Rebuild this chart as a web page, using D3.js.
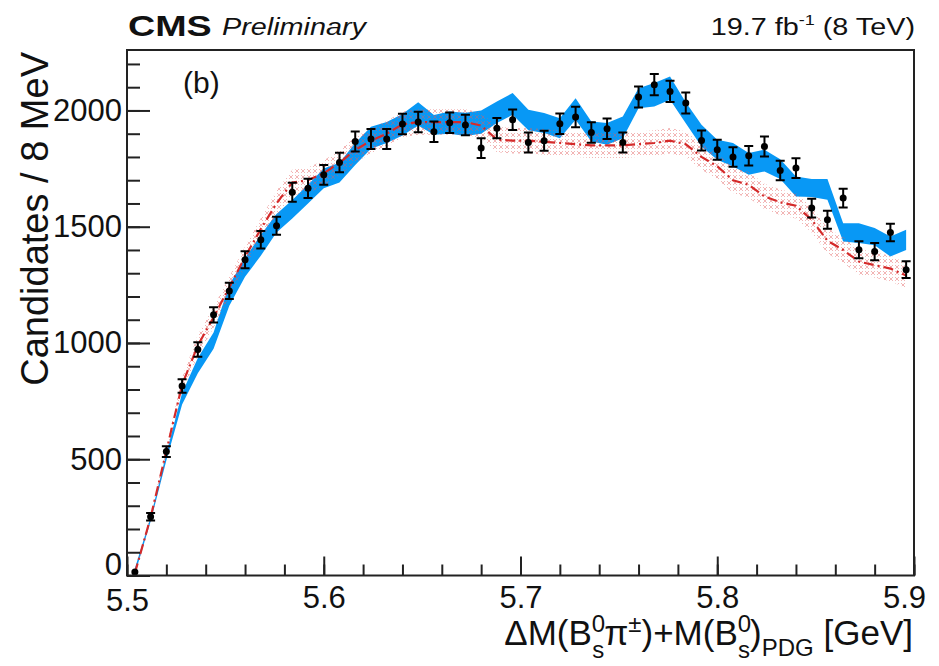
<!DOCTYPE html>
<html>
<head>
<meta charset="utf-8">
<script src="https://cdn.jsdelivr.net/npm/d3@7"></script>
<style>
  body { margin: 0; background: #fff; }
  svg text { font-family: "Liberation Sans", Arial, Helvetica, sans-serif; fill: #111; }
</style>
</head>
<body>
<div id="chart"></div>
<script>
const width = 939
const height = 666

// bin centres [GeV], 8 MeV bins
const massBins = [5.504,5.512,5.520,5.528,5.536,5.544,5.552,5.560,5.568,5.576,
                  5.584,5.592,5.600,5.608,5.616,5.624,5.632,5.640,5.648,5.656,
                  5.664,5.672,5.680,5.688,5.696,5.704,5.712,5.720,5.728,5.736,
                  5.744,5.752,5.760,5.768,5.776,5.784,5.792,5.800,5.808,5.816,
                  5.824,5.832,5.840,5.848,5.856,5.864,5.872,5.880,5.888,5.896]

// data points
const counts = [15,253,533,815,972,1121,1224,1358,1444,1504,
                1648,1665,1723,1776,1867,1877,1877,1942,1950,1908,
                1947,1937,1838,1924,1960,1862,1870,1943,1972,1905,
                1921,1862,2058,2111,2082,2032,1871,1831,1800,1805,
                1845,1742,1752,1580,1530,1623,1401,1393,1475,1315]
const errors = [4,16,23,29,31,33,35,37,38,39,
                41,41,42,42,43,43,43,44,44,44,
                44,44,43,44,44,43,43,44,44,44,
                44,43,45,46,46,45,43,43,42,42,
                43,42,42,40,39,40,37,37,38,36]

// blue band (lower / upper)
const blueLow = [5,232,495,735,870,975,1160,1285,1375,1475,
                 1535,1600,1665,1690,1765,1835,1860,1892,1935,1895,
                 1900,1890,1900,1946,1981,1915,1903,1881,1960,1867,
                 1852,1881,2010,2017,2046,1945,1845,1788,1759,1723,
                 1738,1705,1630,1628,1616,1436,1430,1420,1372,1400]
const blueHigh = [30,252,525,785,935,1045,1250,1365,1465,1555,
                  1615,1680,1750,1775,1860,1930,1950,1985,2035,1980,
                  1995,1990,2000,2039,2075,2003,1989,1967,2053,1953,
                  1946,1974,2096,2118,2146,2035,1938,1874,1860,1817,
                  1831,1790,1716,1705,1705,1515,1515,1494,1458,1487]

// red band (central line, lower, upper)
const redMid = [10,250,535,820,990,1110,1240,1370,1490,1600,
                1690,1700,1730,1775,1830,1870,1900,1940,1950,1950,
                1950,1950,1935,1875,1870,1870,1865,1860,1855,1850,
                1850,1850,1855,1860,1870,1855,1800,1760,1700,1680,
                1630,1605,1590,1530,1440,1400,1350,1335,1320,1290]
const redLow = [2,235,515,790,945,1065,1195,1325,1445,1545,
                1635,1645,1675,1720,1775,1815,1845,1885,1895,1895,
                1895,1895,1880,1820,1815,1815,1810,1805,1800,1795,
                1795,1795,1800,1805,1815,1800,1745,1705,1645,1625,
                1575,1550,1535,1475,1385,1345,1295,1280,1265,1235]
const redHigh = [18,265,555,850,1035,1155,1285,1415,1535,1655,
                 1745,1755,1785,1830,1885,1925,1955,1995,2005,2005,
                 2005,2005,1990,1930,1925,1925,1920,1915,1910,1905,
                 1905,1905,1910,1915,1925,1910,1855,1815,1755,1735,
                 1685,1660,1645,1585,1495,1455,1405,1390,1375,1345]

const xMajor = [5.5, 5.6, 5.7, 5.8, 5.9]
const yMajor = [0, 500, 1000, 1500, 2000]

const svg = d3.select("div#chart").append("svg").attr("width", width).attr("height", height)

const x = d3.scaleLinear().domain([5.5, 5.9]).range([127, 914])
const y = d3.scaleLinear().domain([0, 2260]).range([575.5, 50])

const defs = svg.append("defs")
const pat = defs.append("pattern").attr("id", "redHatch")
    .attr("width", 6).attr("height", 6).attr("patternUnits", "userSpaceOnUse")
pat.append("path").attr("d", "M1,1 L5,5 M5,1 L1,5")
    .attr("stroke", "#e35a5a").attr("stroke-opacity", 0.45).attr("stroke-width", 1)

const bins = massBins.map((m, i) => ({
    m, n: counts[i], e: errors[i],
    bl: blueLow[i], bh: blueHigh[i],
    rm: redMid[i], rl: redLow[i], rh: redHigh[i]
}))

const elementGroup = svg.append("g").attr("class", "elementGroup")

// blue band
elementGroup.append("path").datum(bins)
    .attr("d", d3.area().x(d => x(d.m)).y0(d => y(d.bl)).y1(d => y(d.bh)))
    .attr("fill", "#0898f5")

// red band + dash-dot line
elementGroup.append("path").datum(bins)
    .attr("d", d3.area().x(d => x(d.m)).y0(d => y(d.rl)).y1(d => y(d.rh)))
    .attr("fill", "url(#redHatch)")
elementGroup.append("path").datum(bins)
    .attr("d", d3.line().x(d => x(d.m)).y(d => y(d.rm)))
    .attr("fill", "none").attr("stroke", "#d42a2a").attr("stroke-width", 2.2)
    .attr("stroke-dasharray", "10,4,2,4")

// data points with error bars
const pts = elementGroup.selectAll("g.pt").data(bins).enter().append("g").attr("class", "pt")
pts.append("line")
    .attr("x1", d => x(d.m)).attr("x2", d => x(d.m))
    .attr("y1", d => y(d.n - d.e)).attr("y2", d => y(d.n + d.e))
    .attr("stroke", "#000").attr("stroke-width", 2)
pts.filter(d => d.e > 10).append("path")
    .attr("d", d => `M${x(d.m) - 4.5},${y(d.n - d.e)}H${x(d.m) + 4.5}M${x(d.m) - 4.5},${y(d.n + d.e)}H${x(d.m) + 4.5}`)
    .attr("stroke", "#000").attr("stroke-width", 2)
pts.append("circle")
    .attr("cx", d => x(d.m)).attr("cy", d => y(d.n)).attr("r", 3.5)
    .attr("fill", "#000")

// axes
const axisGroup = svg.append("g").attr("class", "axisGroup")
const xAxisGroup = axisGroup.append("g").attr("transform", `translate(0, ${y(0)})`)
const xMinorGroup = axisGroup.append("g").attr("transform", `translate(0, ${y(0)})`)
const yAxisGroup = axisGroup.append("g").attr("transform", `translate(${x(5.5)}, 0)`)
const yMinorGroup = axisGroup.append("g").attr("transform", `translate(${x(5.5)}, 0)`)

xMinorGroup.call(d3.axisBottom(x).tickValues(d3.range(5.5, 5.9001, 0.02)).tickSize(-11).tickFormat(""))
xAxisGroup.call(d3.axisBottom(x).tickValues(xMajor).tickSize(-19).tickPadding(10).tickFormat(d3.format(".1f")))
yMinorGroup.call(d3.axisLeft(y).tickValues(d3.range(0, 2201, 100)).tickSize(-13).tickFormat(""))
yAxisGroup.call(d3.axisLeft(y).tickValues(yMajor).tickSize(-23).tickPadding(5).tickFormat(d3.format("d")))

axisGroup.selectAll(".domain").remove()
axisGroup.selectAll(".tick line").attr("stroke", "#222").attr("stroke-width", 2)
axisGroup.selectAll(".tick text").attr("font-size", 31).attr("fill", "#111")
    .attr("font-family", "'Liberation Sans', Arial, sans-serif")
// last x label pulled inside the canvas, as in the original
xAxisGroup.selectAll(".tick text").filter(d => d === 5.9).attr("dx", -10)
// corner labels: "0" a touch higher, "5.5" a touch lower, so they clear each other
yAxisGroup.selectAll(".tick text").filter(d => d === 0).attr("dy", "-0.02em")
xAxisGroup.selectAll(".tick text").filter(d => d === 5.5).attr("y", 13)

// frame
svg.append("rect").attr("x", 127).attr("y", 50).attr("width", 787).attr("height", 525.5)
    .attr("fill", "none").attr("stroke", "#222").attr("stroke-width", 2)

// titles
svg.append("text").attr("transform", "translate(48, 52) rotate(-90)")
    .attr("text-anchor", "end").attr("font-size", 38).text("Candidates / 8 MeV")

const xt = svg.append("text").attr("x", 913).attr("y", 645).attr("text-anchor", "end").attr("font-size", 35)
xt.append("tspan").text("ΔM(B")
xt.append("tspan").attr("font-size", 24).attr("dy", -13).text("0")
xt.append("tspan").attr("font-size", 24).attr("dx", -13).attr("dy", 26).text("s")
xt.append("tspan").attr("dy", -13).text("π")
xt.append("tspan").attr("font-size", 24).attr("dy", -13).text("±")
xt.append("tspan").attr("dy", 13).text(")+M(B")
xt.append("tspan").attr("font-size", 24).attr("dy", -13).text("0")
xt.append("tspan").attr("font-size", 24).attr("dx", -13).attr("dy", 26).text("s")
xt.append("tspan").attr("dy", -13).text(")")
xt.append("tspan").attr("font-size", 24).attr("dy", 11).text("PDG")
xt.append("tspan").attr("dy", -11).text(" [GeV]")

svg.append("text").attr("x", 183).attr("y", 93).attr("font-size", 30).text("(b)")

svg.append("text").attr("transform", "translate(128, 36) scale(1.3, 1)")
    .attr("font-size", 29).attr("font-weight", "bold").text("CMS")
svg.append("text").attr("transform", "translate(222, 35) scale(1.2, 1)")
    .attr("font-size", 24).attr("font-style", "italic").text("Preliminary")

const lumi = svg.append("text").attr("transform", "translate(915, 35) scale(1.2, 1)")
    .attr("text-anchor", "end").attr("font-size", 24)
lumi.append("tspan").text("19.7 fb")
lumi.append("tspan").attr("font-size", 15).attr("dy", -10).text("-1")
lumi.append("tspan").attr("dy", 10).text(" (8 TeV)")
</script>
</body>
</html>
